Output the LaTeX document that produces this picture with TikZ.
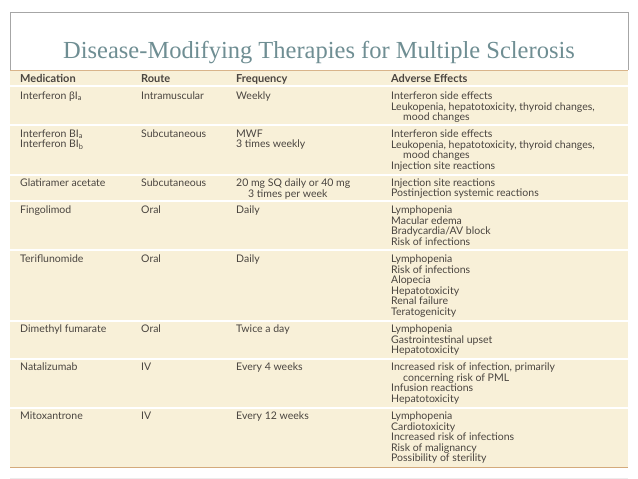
\documentclass[tikz,border=0pt]{standalone}
\usepackage{fontspec}
\setmainfont{Lato}
\newfontfamily\titlefont{Liberation Serif}
\definecolor{bg}{HTML}{F8F0D8}
\definecolor{txt}{HTML}{4A4540}
\definecolor{ttl}{HTML}{6F8E93}
\definecolor{rule}{HTML}{D9B48A}
\begin{document}
\begin{tikzpicture}[x=1pt,y=-1pt,
 cell/.style={anchor=north west,align=left,inner sep=0pt,font=\fontsize{10.5}{10.6}\selectfont,text=txt},
 hcell/.style={cell,font=\fontsize{11}{10.6}\selectfont\bfseries}]
\useasboundingbox (0,0) rectangle (638,479);
\fill[white] (0,0) rectangle (638,479);
\draw[gray!70,line width=0.6] (10,70) -- (10,12) -- (628,12) -- (628,70);
\fill[bg] (10,70) rectangle (628,467);
\draw[rule,line width=1] (10,70) -- (628,70);
\draw[rule!80!brown,line width=1] (10,467) -- (628,467);
\draw[gray!15,line width=0.8] (10,478) -- (628,478);
\foreach \y in {86,125,175,201,250,321,359,408}
  \draw[white,line width=1.2] (10,\y) -- (628,\y);
\node[font=\titlefont\fontsize{24.5}{28}\selectfont,text=ttl] (title) at (319,53) {Disease-Modifying Therapies for Multiple Sclerosis};
% header
\node[hcell] (h1) at (20,74) {Medication};
\node[hcell] (h2) at (141,74) {Route};
\node[hcell] (h3) at (236,74) {Frequency};
\node[hcell] (h4) at (391,74) {Adverse Effects};
% row 1
\node[cell] (a1) at (20,91.5) {Interferon βI\textsubscript{a}};
\node[cell] (b1) at (141,91.5) {Intramuscular};
\node[cell] (c1) at (236,91.5) {Weekly};
\node[cell] (d1) at (391,91.5) {Interferon side effects\\Leukopenia, hepatotoxicity, thyroid changes,\\\hspace*{12pt}mood changes};
% row 2
\node[cell] (a2) at (20,129.5) {Interferon BI\textsubscript{a}\\Interferon BI\textsubscript{b}};
\node[cell] (b2) at (141,129.5) {Subcutaneous};
\node[cell] (c2) at (236,129.5) {MWF\\3 times weekly};
\node[cell] (d2) at (391,129.5) {Interferon side effects\\Leukopenia, hepatotoxicity, thyroid changes,\\\hspace*{12pt}mood changes\\Injection site reactions};
% row 3
\node[cell] (a3) at (20,178.5) {Glatiramer acetate};
\node[cell] (b3) at (141,178.5) {Subcutaneous};
\node[cell] (c3) at (236,178.5) {20 mg SQ daily or 40 mg\\\hspace*{12pt}3 times per week};
\node[cell] (d3) at (391,178.5) {Injection site reactions\\Postinjection systemic reactions};
% row 4
\node[cell] (a4) at (20,205.5) {Fingolimod};
\node[cell] (b4) at (141,205.5) {Oral};
\node[cell] (c4) at (236,205.5) {Daily};
\node[cell] (d4) at (391,205.5) {Lymphopenia\\Macular edema\\Bradycardia/AV block\\Risk of infections};
% row 5
\node[cell] (a5) at (20,254.5) {Teriflunomide};
\node[cell] (b5) at (141,254.5) {Oral};
\node[cell] (c5) at (236,254.5) {Daily};
\node[cell] (d5) at (391,254.5) {Lymphopenia\\Risk of infections\\Alopecia\\Hepatotoxicity\\Renal failure\\Teratogenicity};
% row 6
\node[cell] (a6) at (20,324.5) {Dimethyl fumarate};
\node[cell] (b6) at (141,324.5) {Oral};
\node[cell] (c6) at (236,324.5) {Twice a day};
\node[cell] (d6) at (391,324.5) {Lymphopenia\\Gastrointestinal upset\\Hepatotoxicity};
% row 7
\node[cell] (a7) at (20,362.5) {Natalizumab};
\node[cell] (b7) at (141,362.5) {IV};
\node[cell] (c7) at (236,362.5) {Every 4 weeks};
\node[cell] (d7) at (391,362.5) {Increased risk of infection, primarily\\\hspace*{12pt}concerning risk of PML\\Infusion reactions\\Hepatotoxicity};
% row 8
\node[cell] (a8) at (20,411.5) {Mitoxantrone};
\node[cell] (b8) at (141,411.5) {IV};
\node[cell] (c8) at (236,411.5) {Every 12 weeks};
\node[cell] (d8) at (391,411.5) {Lymphopenia\\Cardiotoxicity\\Increased risk of infections\\Risk of malignancy\\Possibility of sterility};
\end{tikzpicture}
\end{document}
